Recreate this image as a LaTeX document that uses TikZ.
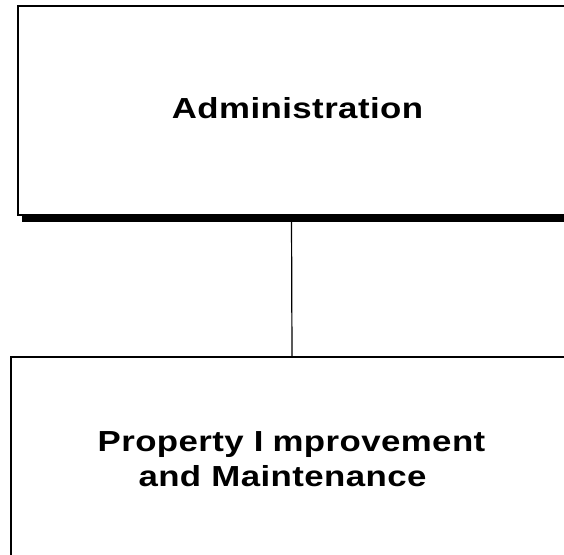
\documentclass[tikz,border=0pt]{standalone}
\usepackage{fontspec}
\newfontfamily\orgfont[FakeStretch=1.2, LetterSpace=1.5]{Liberation Sans}
\usetikzlibrary{shadows}
\tikzset{
	orgbox/.style={draw, line width=2pt, fill=white, inner sep=0pt,
		drop shadow={shadow xshift=4pt, shadow yshift=-7pt, fill=black, opacity=1}},
	orgtext/.style={font=\orgfont\bfseries\fontsize{29}{35}\selectfont, align=center, inner sep=0pt},
	orgline/.style={line width=1.2pt}
}

\begin{document}
\begin{tikzpicture}[x=1pt, y=-1pt]
			%%%%% START %%%%%
			\useasboundingbox (0, 0) rectangle (564, 554);
			
			\node[orgbox, minimum width=548pt, minimum height=209pt] (admin) at (291.5, 110.5) {};
			\node[orgtext, anchor=base] (admintext) at (297.5, 118) {Administration};
			
			\node[orgbox, minimum width=562pt, minimum height=260pt, anchor=north] (maint) at (292, 356) {};
			\node[orgtext] (mainttext) at (291.5, 459) {Property I\kern9pt mprovement\\and Maintenance\hspace*{18pt}};
			
			\draw[orgline] (admin.south) -- (maint.north);
			%%%%% END %%%%%
		\end{tikzpicture}
\end{document}
